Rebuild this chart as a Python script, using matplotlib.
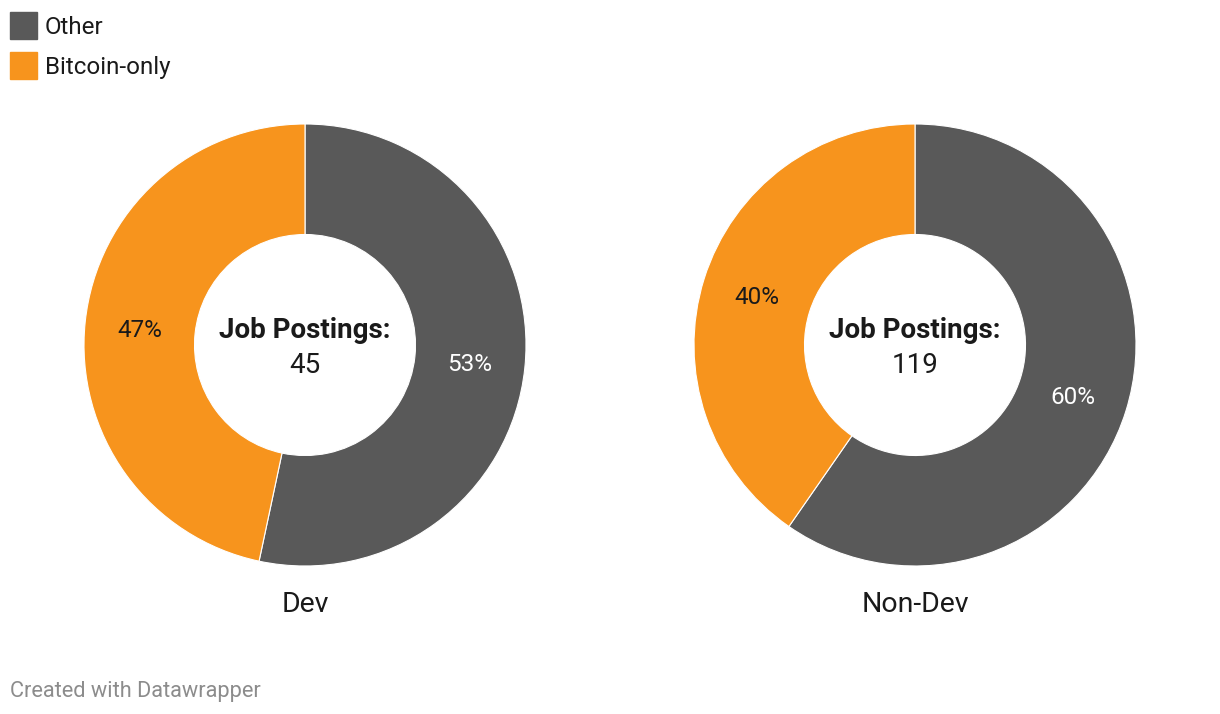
import numpy as np
import matplotlib.pyplot as plt
from matplotlib.patches import Rectangle

plt.rcParams['font.family'] = ['Roboto', 'DejaVu Sans']

# data
charts = ['Dev', 'Non-Dev']
categories = ['Other', 'Bitcoin-only']
other_counts = [24, 71]
bitcoin_counts = [21, 48]
totals = [45, 119]
colors = ['#595959', '#f7941d']

W, H = 1220, 714
fig = plt.figure(figsize=(W / 100, H / 100), dpi=100)
fig.patch.set_facecolor('white')

centers_x = [305, 915]
center_y = 345
r_px = 221
dy = 2.5 / r_px  # small downward nudge for text

for i, name in enumerate(charts):
    cx = centers_x[i]
    ax = fig.add_axes([(cx - r_px) / W, 1 - (center_y + r_px) / H,
                       2 * r_px / W, 2 * r_px / H])
    vals = [other_counts[i], bitcoin_counts[i]]
    ax.pie(vals, colors=colors, startangle=90, counterclock=False, radius=1.0,
           wedgeprops=dict(width=0.5, edgecolor='white', linewidth=0.8))
    total = sum(vals)
    # percentage labels at mid radius
    start = 90
    for j, v in enumerate(vals):
        frac = v / total
        mid = start - frac * 360 / 2
        start -= frac * 360
        x = 0.75 * np.cos(np.radians(mid))
        y = 0.75 * np.sin(np.radians(mid)) - dy
        ax.text(x, y, f'{round(frac * 100)}%', ha='center', va='center',
                fontsize=17.5, color='white' if j == 0 else '#1a1a1a')
    ax.text(0, 0.077 - dy, 'Job Postings:', ha='center', va='center', fontsize=20,
            fontweight='bold', color='#1a1a1a')
    ax.text(0, -0.08 - dy, f'{totals[i]}', ha='center', va='center', fontsize=20,
            color='#1a1a1a')
    ax.set_xlim(-1, 1)
    ax.set_ylim(-1, 1)
    ax.set_aspect('equal')
    ax.axis('off')
    fig.text(cx / W, 1 - 605 / H, name, ha='center', va='center',
             fontsize=20.5, color='#1a1a1a')

# legend
for k, cat in enumerate(categories):
    top = 12 + k * 40
    fig.patches.append(Rectangle((10 / W, 1 - (top + 27) / H), 27 / W, 27 / H,
                                 transform=fig.transFigure, color=colors[k]))
    fig.text(45 / W, 1 - (top + 15.5) / H, cat, ha='left', va='center',
             fontsize=17.4, color='#1a1a1a')

fig.text(10 / W, 1 - 691.5 / H, 'Created with Datawrapper', ha='left', va='center',
         fontsize=15.7, color='#8c8c8c')

fig.savefig('out.png', dpi=100, facecolor='white')
